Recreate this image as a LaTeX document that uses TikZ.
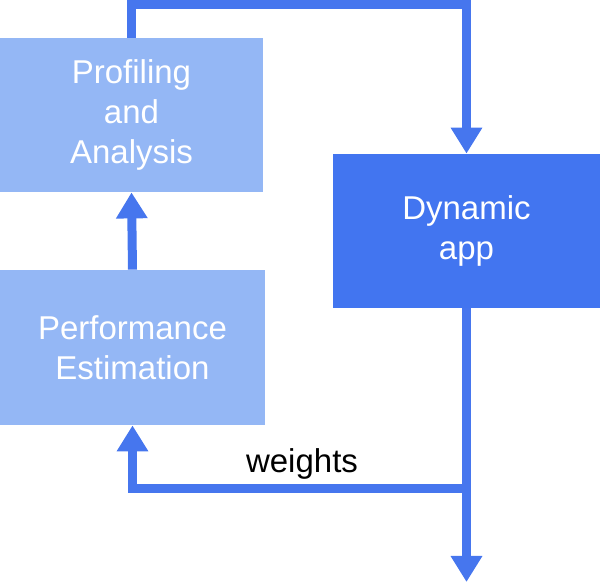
\documentclass[tikz,border=0pt]{standalone}
\usepackage{fontspec}
\setmainfont{Liberation Sans}
\usepackage{xcolor}
\usetikzlibrary{arrows.meta,positioning}
\definecolor{boxlight}{RGB}{148,183,245}
\definecolor{boxdark}{RGB}{66,117,240}
\definecolor{flowblue}{RGB}{70,118,238}
\tikzset{>={Triangle[width=15pt,length=13pt]}}
\tikzset{light box/.style={fill=boxlight,text=white,align=center,inner sep=0pt,minimum width=131.5pt,minimum height=77pt,font=\fontsize{16.5}{20}\selectfont},
            dark box/.style={light box,fill=boxdark,minimum width=133.5pt},
            flow/.style={draw=flowblue,line width=4.5pt},
            }

\begin{document}
\begin{tikzpicture}[x=0.5pt,y=-0.5pt]
    \useasboundingbox (0,0) rectangle (600,582);

    \node[light box] (prof) at (131.5,115) {Profiling\\and\\Analysis};
    \node[light box] (perf) at (132.5,347.5) [minimum width=132.5pt,minimum height=77.5pt] {Performance\\Estimation};
    \node[dark box] (dyn) at (466.5,231) {Dynamic\\app};

    \coordinate (turn) at (300,5);
    \coordinate (split) at (466.5,489);
    \coordinate (out) at (466.5,582);

    \path[flow,->] (prof.north) |- (turn) -| (dyn.north);
    \path[flow,->] (perf.north) -- (prof.south);
    \path[flow,->] (dyn.south) -- (out);
    \path[flow,->] (split) -| (perf.south);

    \node[font=\fontsize{16.5}{20}\selectfont] (wts) at (302,464) {weights};

\end{tikzpicture}
\end{document}
